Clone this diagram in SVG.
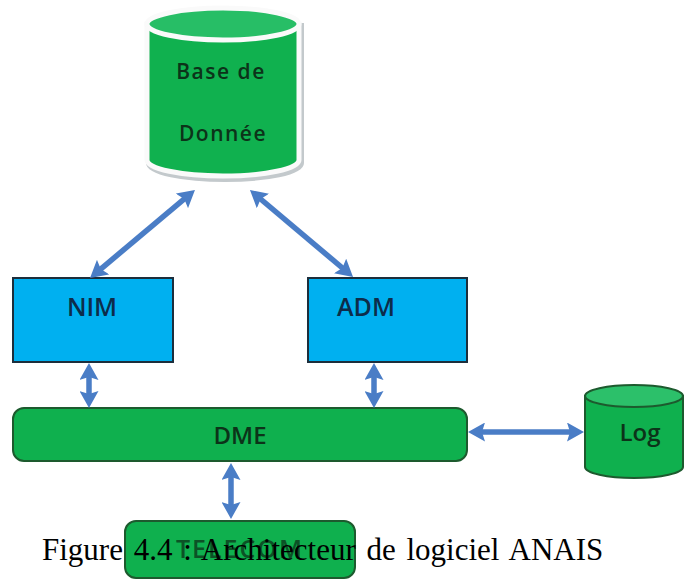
<svg xmlns="http://www.w3.org/2000/svg" width="687" height="583" viewBox="0 0 687 583">
<defs>
<style>
.lbl{font-family:"Open Sans","DejaVu Sans",sans-serif;font-weight:600;fill:#0c3319;text-anchor:middle}
.blbl{font-family:"Open Sans","DejaVu Sans",sans-serif;font-weight:600;fill:#0d2c4a;text-anchor:middle}
.arr{stroke:#4a7dc6;stroke-width:5.5;fill:none;marker-start:url(#ah);marker-end:url(#ah)}
.green{fill:#0fb04e;stroke:#1d5a2e;stroke-width:2}
.blue{fill:#00b0f0;stroke:#1c2e3c;stroke-width:2}
.cap{font-family:"Liberation Serif","Times New Roman",serif;font-size:31px;fill:#000}
</style>
<marker id="ah" viewBox="0 0 17 19" refX="7" refY="9.5" markerWidth="17" markerHeight="19" markerUnits="userSpaceOnUse" orient="auto-start-reverse">
<path d="M0,0 L17,9.5 L0,19 L3,9.5 Z" fill="#4a7dc6"/>
</marker>
</defs>
<rect width="687" height="583" fill="#fff"/>

<g id="db">
<path d="M149,26 L149,163 A76,16 0 0 0 301,163 L301,26 Z" fill="none" stroke="#c3c9cc" stroke-width="6"/>
<path d="M147,24 L147,160 A76,16 0 0 0 299,160 L299,24 Z" fill="#10b14f" stroke="#fafafa" stroke-width="5"/>
<ellipse cx="223" cy="24" rx="76" ry="16" fill="#27be66" stroke="#fafafa" stroke-width="5"/>
<text class="lbl" x="221" y="79" font-size="21" letter-spacing="1.5">Base de</text>
<text class="lbl" x="223" y="141" font-size="21" letter-spacing="1.5">Donnée</text>
</g>

<g id="nim">
<rect class="blue" x="13" y="278" width="160" height="84"/>
<text class="blbl" x="92" y="316" font-size="25">NIM</text>
</g>

<g id="adm">
<rect class="blue" x="308" y="278" width="159" height="84"/>
<text class="blbl" x="366" y="316" font-size="25">ADM</text>
</g>

<g id="dme">
<rect class="green" x="13" y="408" width="454" height="53" rx="11"/>
<text class="lbl" x="240" y="444" font-size="24">DME</text>
</g>

<g id="log">
<path d="M585,396 L585,467 A49,11 0 0 0 683,467 L683,396 Z" class="green"/>
<ellipse cx="634" cy="396" rx="49" ry="11" fill="#2cc06a" stroke="#1d5a2e" stroke-width="2"/>
<text class="lbl" x="640" y="441" font-size="24">Log</text>
</g>

<g id="telecom">
<rect class="green" x="125" y="521" width="230" height="57" rx="11"/>
<text class="lbl" x="240" y="558" font-size="25" letter-spacing="2" opacity="0.75">TELECOM</text>
</g>

<g id="connectors">
<line class="arr" x1="97.7" y1="271.6" x2="187.3" y2="196.4"/>
<line class="arr" x1="257.6" y1="196.5" x2="345.4" y2="270.5"/>
<line class="arr" x1="89" y1="373" x2="89" y2="398"/>
<line class="arr" x1="374" y1="373" x2="374" y2="398"/>
<line class="arr" x1="478" y1="432" x2="574" y2="432"/>
<line class="arr" x1="231" y1="473" x2="231" y2="509"/>
</g>

<text class="cap" x="42" y="560" word-spacing="3">Figure 4.4 : Architecteur de logiciel ANAIS</text>
</svg>
